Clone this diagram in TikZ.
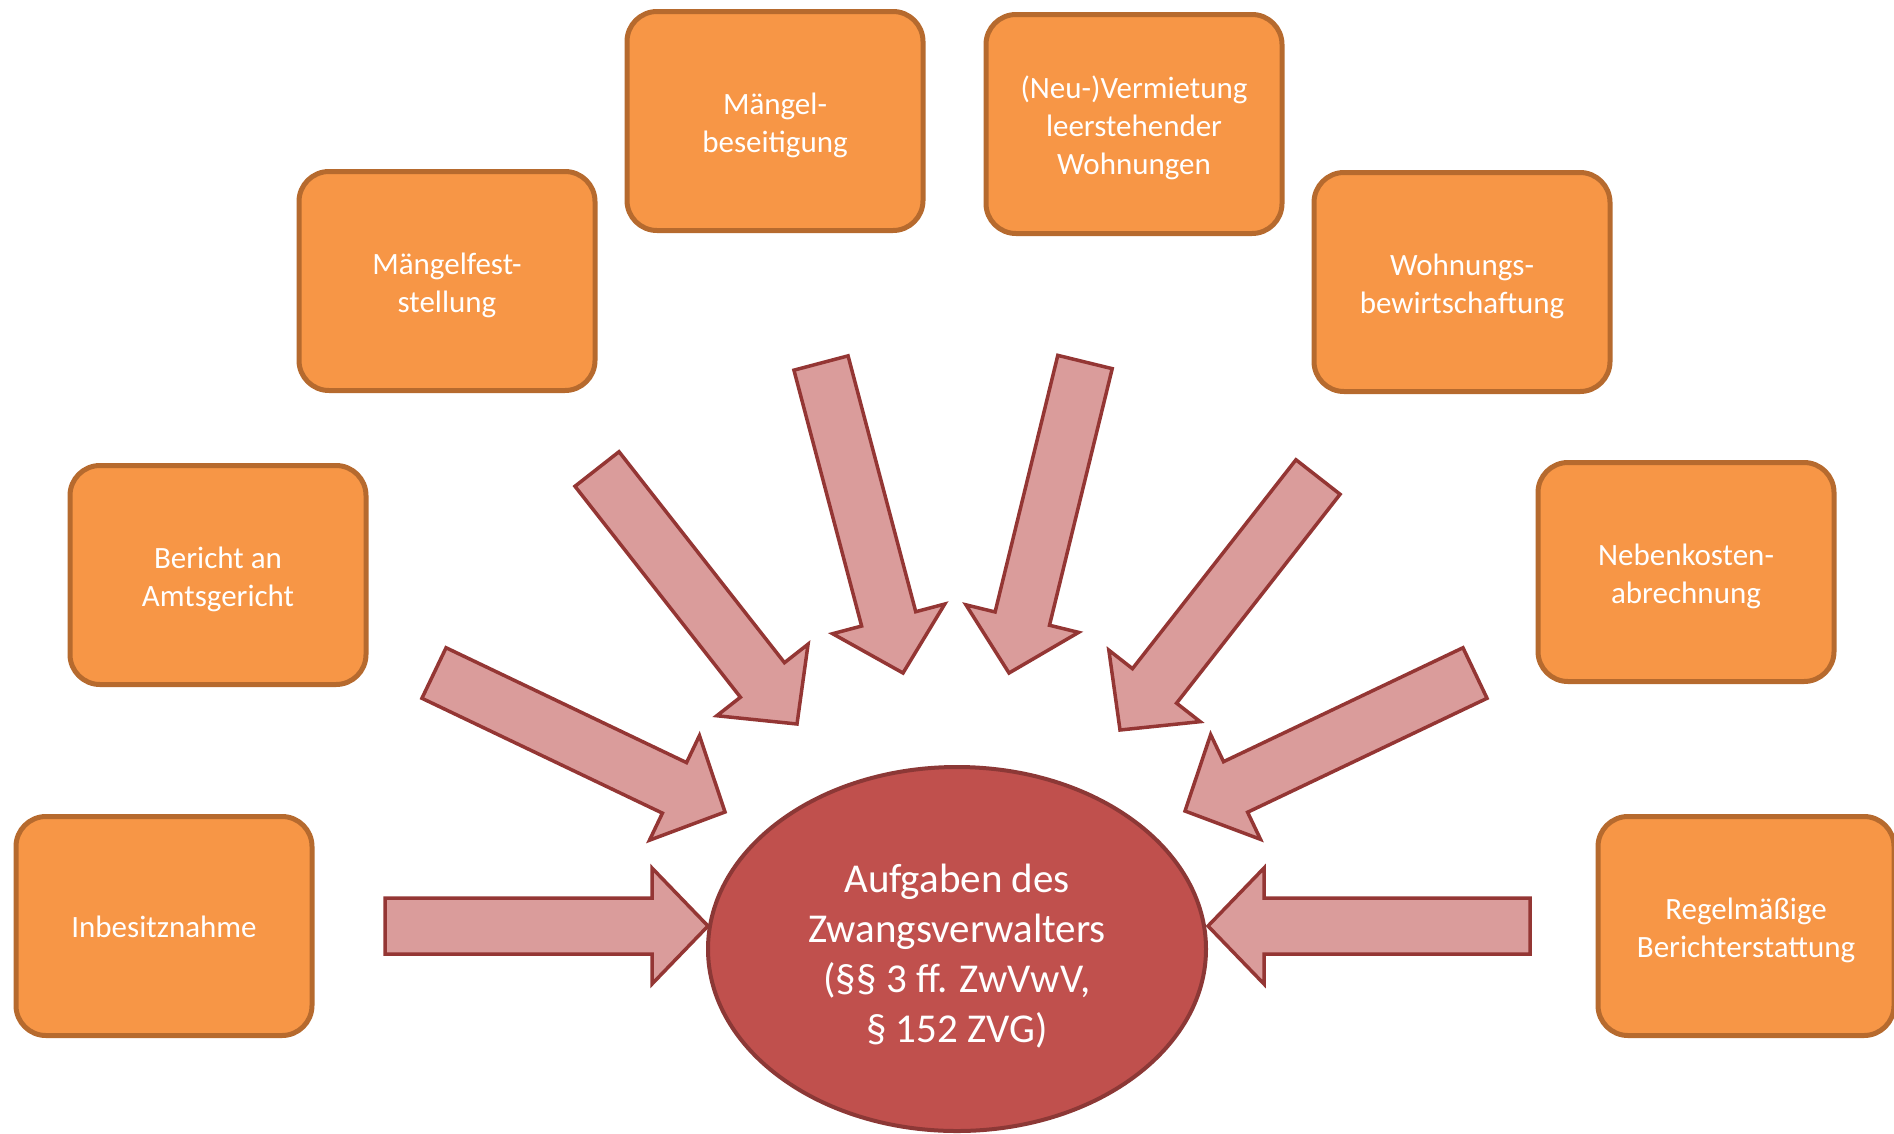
\documentclass[tikz,border=0pt]{standalone}
\usepackage{fontspec}
\setmainfont{Carlito}
\usetikzlibrary{shapes.geometric,calc}
\definecolor{boxfill}{HTML}{F79646}
\definecolor{boxline}{HTML}{B66A2E}
\definecolor{arrfill}{HTML}{DA9C9B}
\definecolor{arrline}{HTML}{943634}
\definecolor{ellfill}{HTML}{C0504D}
\definecolor{ellline}{HTML}{8C3836}
\tikzset{
  taskbox/.style={draw=boxline, fill=boxfill, line width=5pt, rounded corners=30pt,
    minimum width=296pt, minimum height=219pt, inner sep=0pt},
  boxtext/.style={text=white, align=center, inner sep=0pt, yshift=-4pt,
    font=\fontsize{31}{38}\selectfont},
  centre/.style={ellipse, draw=ellline, fill=ellfill, line width=4pt,
    minimum width=498pt, minimum height=364pt, inner sep=0pt},
  centretext/.style={text=white, align=center, inner sep=0pt, yshift=-7pt,
    font=\fontsize{41}{50}\selectfont},
  barrow/.style={draw=arrline, fill=arrfill, line width=3.5pt, line join=miter}
}
\newcommand\blockarrow[2]{%
  \coordinate (#1h) at ($(#2)!56pt!(#1)$);
  \draw[barrow] ($(#1)!28pt!90:(#2)$) -- ($(#1h)!28pt!90:(#2)$)
    -- ($(#1h)!58pt!90:(#2)$) -- (#2) -- ($(#1h)!58pt!-90:(#2)$)
    -- ($(#1h)!28pt!-90:(#2)$) -- ($(#1)!28pt!-90:(#2)$) -- cycle;}
\begin{document}
\begin{tikzpicture}[x=1pt,y=-1pt]
\useasboundingbox (0,0) rectangle (1894,1133);
% task boxes
\node[taskbox, label={[boxtext,yshift=3pt]center:{Inbesitznahme}}] (b1) at (164,926) {};
\node[taskbox, label={[boxtext]center:{Bericht an\\Amtsgericht}}] (b2) at (218,575) {};
\node[taskbox, label={[boxtext]center:{Mängelfest-\\stellung}}] (b3) at (447,281) {};
\node[taskbox, label={[boxtext]center:{Mängel-\\beseitigung}}] (b4) at (775,121) {};
\node[taskbox, label={[boxtext]center:{(Neu-)Vermietung\\leerstehender\\Wohnungen}}] (b5) at (1134,124) {};
\node[taskbox, label={[boxtext]center:{Wohnungs-\\bewirtschaftung}}] (b6) at (1462,282) {};
\node[taskbox, label={[boxtext]center:{Nebenkosten-\\abrechnung}}] (b7) at (1686,572) {};
\node[taskbox, label={[boxtext]center:{Regelmäßige\\Berichterstattung}}] (b8) at (1746,926) {};
% arrow end points
\coordinate (a1s) at (385,926);   \coordinate (a1e) at (708,926);
\coordinate (a2s) at (434,673);   \coordinate (a2e) at (725,812);
\coordinate (a3s) at (597,469);   \coordinate (a3e) at (797,724);
\coordinate (a4s) at (821,363);   \coordinate (a4e) at (903,673);
\coordinate (a5s) at (1085,362);  \coordinate (a5e) at (1009,673);
\coordinate (a6s) at (1318,477);  \coordinate (a6e) at (1120,730);
\coordinate (a7s) at (1475,673);  \coordinate (a7e) at (1185,811);
\coordinate (a8s) at (1530,926);  \coordinate (a8e) at (1208,926);
\blockarrow{a1s}{a1e}
\blockarrow{a2s}{a2e}
\blockarrow{a3s}{a3e}
\blockarrow{a4s}{a4e}
\blockarrow{a5s}{a5e}
\blockarrow{a6s}{a6e}
\blockarrow{a7s}{a7e}
\blockarrow{a8s}{a8e}
% centre
\node[centre, label={[centretext]center:{Aufgaben des\\Zwangsverwalters\\(§§ 3 ff. ZwVwV,\\§ 152 ZVG)}}] (c) at (957,949) {};
\end{tikzpicture}
\end{document}
